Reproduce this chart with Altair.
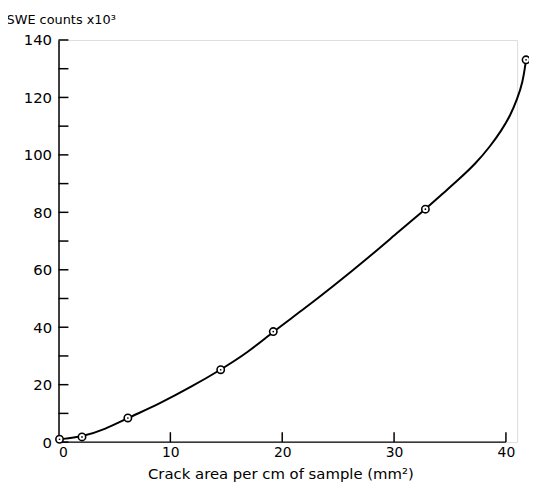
import altair as alt
import pandas as pd

crack_area = [0.09, 2.1, 6.2, 14.5, 19.2, 32.8, 41.8]
swe_counts = [1.0, 1.8, 8.4, 25.2, 38.5, 81.1, 133.1]

# fitted curve
curve_x = [0.09, 2.1, 4.2, 6.2, 9.0, 11.9, 14.5, 16.9, 19.2, 21.7, 24.6, 27.6,
           30.5, 32.8, 34.2, 35.8, 37.3, 38.6, 39.6, 40.4, 41.0, 41.5, 41.8]
curve_y = [1.0, 1.8, 4.5, 8.4, 13.3, 19.3, 25.2, 31.1, 38.5, 45.6, 54.4, 63.9,
           73.6, 81.1, 86.0, 91.5, 97.0, 103.0, 108.5, 113.7, 119.4, 125.1, 133.1]

x_ticks = [0, 10, 20, 30, 40]
y_ticks = list(range(0, 150, 10))

df = pd.DataFrame({"x": crack_area, "y": swe_counts})
curve_df = pd.DataFrame({"x": curve_x, "y": curve_y})
ytick_df = pd.DataFrame({"v": y_ticks})
xtick_df = pd.DataFrame({"v": x_ticks[1:]})
xaxis_df = pd.DataFrame({"a": [0], "b": [40], "y": [0]})

FONT = "DejaVu Sans"
H = 406

xscale = alt.Scale(domain=[0, 41], nice=False, zero=False)
yscale = alt.Scale(domain=[0, 140], nice=False)

xaxis = alt.Axis(
    values=x_ticks, domain=False, ticks=False, grid=False,
    labelFont=FONT, labelFontSize=14, labelColor="black", labelPadding=4,
    title="Crack area per cm of sample (mm²)", titleFont=FONT, titleFontSize=15,
    titleFontWeight="normal", titleColor="black",
    titleX=224, titleY=37, titleAlign="center", titleBaseline="alphabetic",
)
yaxis = alt.Axis(
    values=y_ticks, domain=True, domainColor="black", domainWidth=1.5,
    ticks=False, grid=False,
    labelExpr="datum.value % 20 == 0 ? datum.label : ''",
    labelFont=FONT, labelFontSize=15, labelColor="black", labelPadding=7,
    title="SWE counts x10³", titleFont=FONT, titleFontSize=13,
    titleFontWeight="normal", titleColor="black", titleAngle=0,
    titleX=-53, titleY=-17, titleAlign="left", titleBaseline="alphabetic",
)

line = alt.Chart(curve_df).mark_line(
    interpolate="basis", color="black", strokeWidth=2
).encode(
    x=alt.X("x:Q", scale=xscale, axis=xaxis),
    y=alt.Y("y:Q", scale=yscale, axis=yaxis),
)

pts = alt.Chart(df).mark_point(
    shape="circle", size=55, filled=True, fill="white", stroke="black",
    strokeWidth=1.6, opacity=1
).encode(x=alt.X("x:Q", scale=xscale), y=alt.Y("y:Q", scale=yscale))

dots = alt.Chart(df).mark_point(
    shape="circle", size=3, filled=True, color="black", opacity=1
).encode(x=alt.X("x:Q", scale=xscale), y=alt.Y("y:Q", scale=yscale))

yt = alt.Chart(ytick_df).mark_rule(color="black", strokeWidth=1.5).encode(
    y=alt.Y("v:Q", scale=yscale), x=alt.value(0), x2=alt.value(10)
)
xt = alt.Chart(xtick_df).mark_rule(color="black", strokeWidth=1.5).encode(
    x=alt.X("v:Q", scale=xscale), y=alt.value(H), y2=alt.value(H - 10)
)
xl = alt.Chart(xaxis_df).mark_rule(color="black", strokeWidth=1.5).encode(
    x=alt.X("a:Q", scale=xscale), x2="b:Q", y=alt.Y("y:Q", scale=yscale)
)

chart = alt.layer(xl, yt, xt, line, pts, dots).properties(
    width=463, height=H,
    autosize=alt.AutoSizeParams(type="none"),
    padding={"left": 51, "top": 30, "right": 12, "bottom": 41},
).configure_view(stroke=None).configure(background="white")

chart.save("out.html", embed_options={"renderer": "svg", "actions": False})
